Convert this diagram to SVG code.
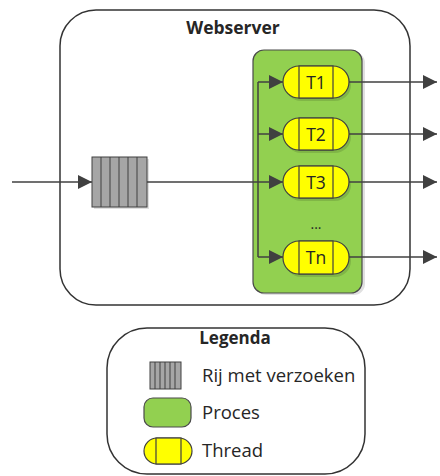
<svg xmlns="http://www.w3.org/2000/svg" width="440" height="476" viewBox="0 0 440 476">
<style>
.box{fill:#fff;stroke:#333;stroke-width:1.5}
.proc{fill:#92D050;stroke:#4a4a4a;stroke-width:1.2}
.thr{fill:#FFFF00;stroke:#404040;stroke-width:1.2}
.q{fill:#A6A6A6;stroke:#404040;stroke-width:1}
.sh{fill:#000;opacity:0.12}
.t{font-family:"Open Sans","Liberation Sans",sans-serif;fill:#262626}
.b{font-weight:bold}
.c{stroke:#404040;stroke-width:1.5;fill:none}
</style>
<defs>
<marker id="ah2" viewBox="0 0 10 10" refX="10" refY="5" markerWidth="14" markerHeight="14" orient="auto" markerUnits="userSpaceOnUse">
<path d="M0,0 L10,5 L0,10 Z" fill="#404040"/>
</marker>
</defs>

<g id="webserver">
<rect class="box" x="60" y="10" width="350" height="295" rx="36"/>
<text class="t b" x="233" y="34" font-size="17.5" text-anchor="middle">Webserver</text>
</g>

<g id="process">
<rect class="sh" x="255" y="52" width="110" height="243" rx="11"/>
<rect class="proc" x="253" y="50" width="109" height="243" rx="11"/>
</g>

<g id="queue">
<rect class="sh" x="94" y="159" width="55" height="50"/>
<rect class="q" x="92" y="157" width="55" height="50"/>
<path d="M101,157V207M110,157V207M119,157V207M128,157V207M137,157V207" stroke="#404040" stroke-width="1"/>
</g>

<g id="t1">
<rect class="sh" x="285" y="69" width="66" height="32" rx="16"/>
<rect class="thr" x="283" y="66" width="66" height="32" rx="16"/>
<rect class="thr" x="299" y="66" width="34" height="32"/>
<text class="t" x="316" y="88.5" font-size="17.5" text-anchor="middle">T1</text>
</g>
<g id="t2">
<rect class="sh" x="285" y="121" width="66" height="32" rx="16"/>
<rect class="thr" x="283" y="118" width="66" height="32" rx="16"/>
<rect class="thr" x="299" y="118" width="34" height="32"/>
<text class="t" x="316" y="140.5" font-size="17.5" text-anchor="middle">T2</text>
</g>
<g id="t3">
<rect class="sh" x="285" y="169" width="66" height="32" rx="16"/>
<rect class="thr" x="283" y="166" width="66" height="32" rx="16"/>
<rect class="thr" x="299" y="166" width="34" height="32"/>
<text class="t" x="316" y="188.5" font-size="17.5" text-anchor="middle">T3</text>
</g>
<g id="dots">
<text class="t" x="316" y="229" font-size="14" text-anchor="middle">...</text>
</g>
<g id="tn">
<rect class="sh" x="285" y="244" width="66" height="33" rx="16"/>
<rect class="thr" x="283" y="241" width="66" height="33" rx="16"/>
<rect class="thr" x="299" y="241" width="34" height="33"/>
<text class="t" x="316" y="263.5" font-size="17.5" text-anchor="middle">Tn</text>
</g>

<g id="connectors">
<path class="c" d="M12,182H92" marker-end="url(#ah2)"/>
<path class="c" d="M147,182H283" marker-end="url(#ah2)"/>
<path class="c" d="M258,82V257"/>
<path class="c" d="M258,82H283" marker-end="url(#ah2)"/>
<path class="c" d="M258,134H283" marker-end="url(#ah2)"/>
<path class="c" d="M258,257H283" marker-end="url(#ah2)"/>
<path class="c" d="M349,82H437" marker-end="url(#ah2)"/>
<path class="c" d="M349,134H437" marker-end="url(#ah2)"/>
<path class="c" d="M349,182H437" marker-end="url(#ah2)"/>
<path class="c" d="M349,257H437" marker-end="url(#ah2)"/>
</g>

<g id="legend">
<rect class="box" x="107" y="328" width="258" height="146" rx="40"/>
<text class="t b" x="235" y="344" font-size="17" text-anchor="middle">Legenda</text>
<rect class="q" x="150" y="362" width="31" height="27"/>
<path d="M155,362V389M160,362V389M165,362V389M170,362V389M175,362V389" stroke="#404040" stroke-width="1"/>
<text class="t" x="202" y="382" font-size="18.5">Rij met verzoeken</text>
<rect class="proc" x="144" y="398" width="47" height="29" rx="9"/>
<text class="t" x="202" y="419" font-size="18.5">Proces</text>
<rect class="thr" x="144" y="438" width="48" height="26" rx="13"/>
<rect class="thr" x="156" y="438" width="25" height="26"/>
<text class="t" x="202" y="457" font-size="18.5">Thread</text>
</g>
</svg>
